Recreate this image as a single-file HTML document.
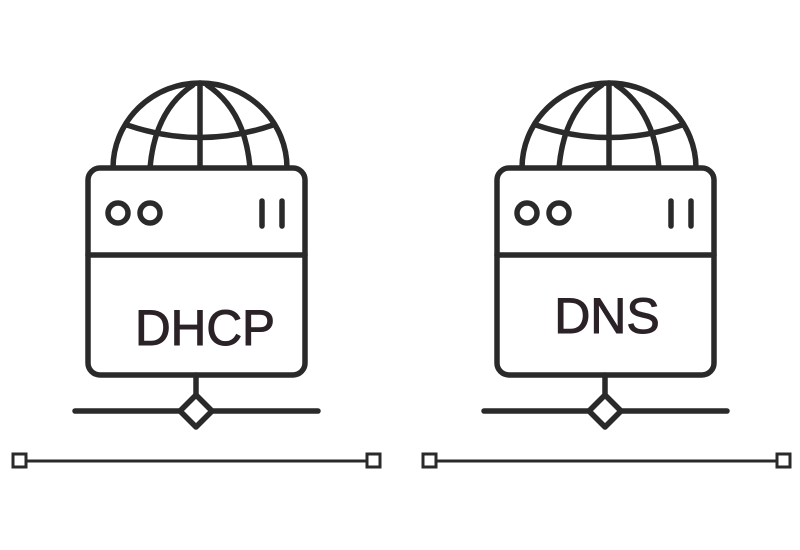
<!DOCTYPE html>
<html><head><style>body{margin:0;background:#fff}svg{display:block}</style></head>
<body>
<svg width="800" height="550" viewBox="0 0 800 550" xmlns="http://www.w3.org/2000/svg">
<defs>
<g id="srv" fill="none" stroke="#2a2a2a" stroke-width="5.5" stroke-linecap="round" stroke-linejoin="round">
  <path d="M113 168 A87 85 0 0 1 287 168"/>
  <line x1="200" y1="83" x2="200" y2="168"/>
  <path d="M150 168 Q155 110 193 85"/>
  <path d="M250 168 Q245 110 207 85"/>
  <path d="M127 125 Q200 150 273 125"/>
  <rect x="88" y="168" width="217" height="207" rx="12" fill="#fff"/>
  <line x1="88" y1="255" x2="305" y2="255"/>
  <circle cx="118" cy="213" r="10"/>
  <circle cx="150" cy="213" r="10"/>
  <line x1="262" y1="201" x2="262" y2="226"/>
  <line x1="282" y1="201" x2="282" y2="226"/>
  <line x1="196" y1="375" x2="196" y2="395"/>
  <line x1="75" y1="411" x2="180" y2="411"/>
  <line x1="212" y1="411" x2="318" y2="411"/>
  <path d="M196 395 L212 411 L196 427 L180 411 Z"/>
</g>
</defs>
<use href="#srv"/>
<use href="#srv" transform="translate(409,0)"/>
<g font-family="Liberation Sans, sans-serif" font-size="50" fill="#2a2226" stroke="#2a2226" stroke-width="1" text-anchor="middle">
<text x="205" y="345" textLength="140" lengthAdjust="spacingAndGlyphs">DHCP</text>
<text x="607" y="333">DNS</text>
</g>
<g stroke="#2a2a2a" stroke-width="3" fill="#fff">
<line x1="26" y1="461" x2="367" y2="461"/>
<line x1="437" y1="461" x2="778" y2="461"/>
<rect x="13" y="454" width="13" height="13"/>
<rect x="367" y="454" width="13" height="13"/>
<rect x="423" y="454" width="13" height="13"/>
<rect x="777" y="454" width="13" height="13"/>
</g>
</svg>
</body></html>
